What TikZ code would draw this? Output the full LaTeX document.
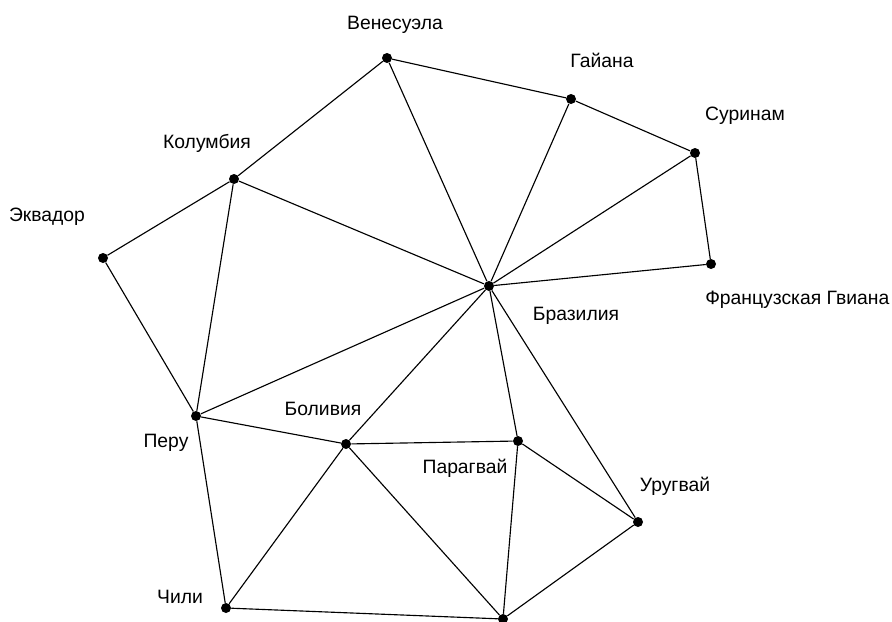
\documentclass[tikz,border=0pt]{standalone}
\usepackage{fontspec}
\setmainfont{Liberation Sans}
\usepackage{tikz}
\usetikzlibrary{positioning}

\tikzset{
    dot/.style={circle, fill=black, inner sep=0pt, minimum size=7.5pt},
    lbl/.style={font=\fontsize{14.5}{16}\selectfont, inner sep=0pt},
    edge/.style={line width=0.85pt}
}

\begin{document}
\begin{tikzpicture}[x=0.75pt, y=-0.75pt]
    \useasboundingbox (0,0) rectangle (892,621);

    % Countries
    \node[dot] (ven) at (387,58) {};
    \node[dot] (guy) at (571,99) {};
    \node[dot] (sur) at (695,153) {};
    \node[dot] (fgu) at (711,264) {};
    \node[dot] (bra) at (489,286) {};
    \node[dot] (col) at (234,179) {};
    \node[dot] (ecu) at (103,258) {};
    \node[dot] (per) at (196,416) {};
    \node[dot] (bol) at (346,444) {};
    \node[dot] (par) at (518,441) {};
    \node[dot] (uru) at (638,522) {};
    \node[dot] (chi) at (226,608) {};
    \node[dot] (arg) at (503,619) {};

    % Names
    \node[lbl] (ven-t) at (395,25) {Венесуэла};
    \node[lbl] (guy-t) at (602,60) {Гайана};
    \node[lbl] (sur-t) at (745,116) {Суринам};
    \node[lbl, anchor=west] (fgu-t) at (705,300) {Французская Гвиана};
    \node[lbl] (bra-t) at (576,316) {Бразилия};
    \node[lbl] (col-t) at (207,143) {Колумбия};
    \node[lbl] (ecu-t) at (47,217) {Эквадор};
    \node[lbl] (per-t) at (166,443) {Перу};
    \node[lbl] (bol-t) at (323,409) {Боливия};
    \node[lbl] (par-t) at (465,468) {Парагвай};
    \node[lbl] (uru-t) at (675,486) {Уругвай};
    \node[lbl] (chi-t) at (180,597) {Чили};

    % Borders
    \foreach \a/\b in {ven/guy, ven/col, ven/bra, guy/sur, guy/bra,
                       sur/fgu, sur/bra, fgu/bra, col/ecu, col/per,
                       col/bra, ecu/per, per/bra, per/bol, per/chi,
                       bol/bra, bol/par, bol/chi, bol/arg, par/bra,
                       par/uru, par/arg, bra/uru, uru/arg, chi/arg}
        \draw[edge] (\a) -- (\b);
\end{tikzpicture}
\end{document}
